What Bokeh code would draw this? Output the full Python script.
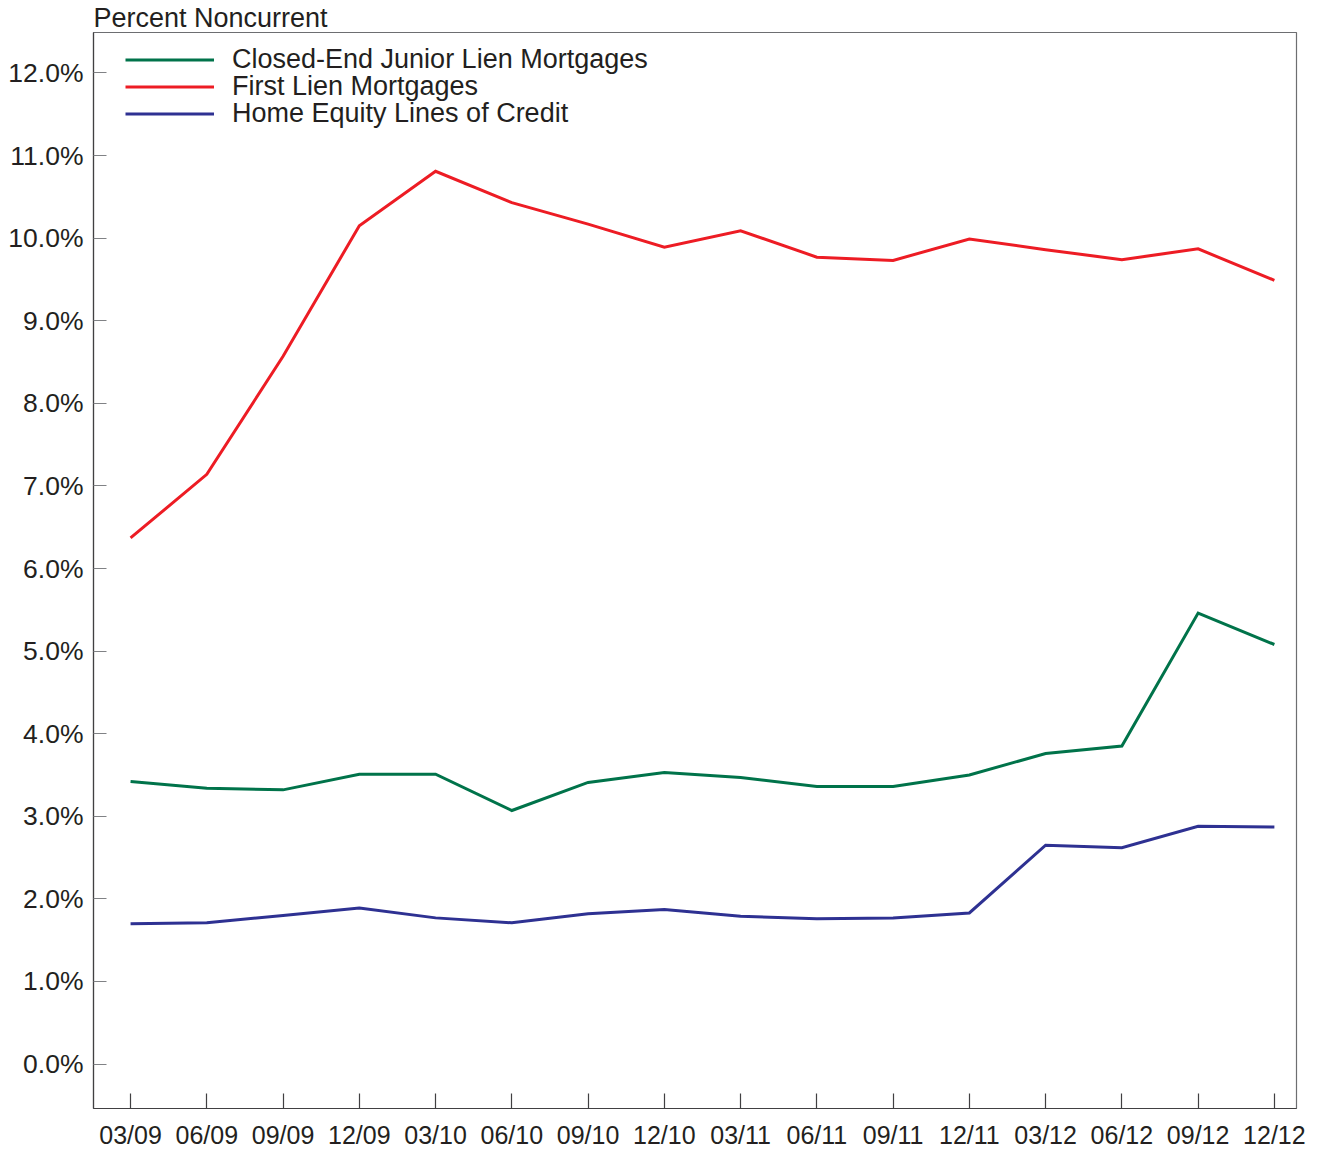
from bokeh.plotting import figure
from bokeh.models import Range1d, FixedTicker, PrintfTickFormatter, Legend, LegendItem, Title
from bokeh.embed import file_html
from bokeh.resources import INLINE

quarters = ["03/09", "06/09", "09/09", "12/09", "03/10", "06/10", "09/10", "12/10",
            "03/11", "06/11", "09/11", "12/11", "03/12", "06/12", "09/12", "12/12"]
closed_end = [3.42, 3.34, 3.32, 3.51, 3.51, 3.07, 3.41, 3.53, 3.47, 3.36, 3.36, 3.50, 3.76, 3.85, 5.46, 5.08]
first_lien = [6.37, 7.14, 8.57, 10.15, 10.81, 10.43, 10.17, 9.89, 10.09, 9.77, 9.73, 9.99, 9.86, 9.74, 9.87, 9.49]
heloc = [1.70, 1.71, 1.80, 1.89, 1.77, 1.71, 1.82, 1.87, 1.79, 1.76, 1.77, 1.83, 2.65, 2.62, 2.88, 2.87]
y_ticks = list(range(0, 13))
series_names = ["Closed-End Junior Lien Mortgages", "First Lien Mortgages", "Home Equity Lines of Credit"]
colors = ["#00734A", "#ED1C24", "#2E3192"]

FONT = "Liberation Sans"
TEXT = "#231F20"

xs = list(range(len(quarters)))
x0, x1 = -0.486, 15.29
y0, y1 = -0.538, 12.49

p = figure(width=1315, height=1151, output_backend="svg", toolbar_location=None,
           x_range=Range1d(x0, x1), y_range=Range1d(y0, y1),
           min_border_left=93, min_border_right=19, min_border_top=28, min_border_bottom=43)
p.title = Title(text="Percent Noncurrent", align="left", standoff=0,
                text_font=FONT, text_font_size="27px", text_font_style="normal",
                text_color=TEXT, text_line_height=0.8)
p.xgrid.visible = False
p.ygrid.visible = False
p.outline_line_color = "#6d6e71"
p.outline_line_width = 1.2
p.background_fill_color = "white"
p.border_fill_color = "white"

renderers = []
for vals, c in zip([closed_end, first_lien, heloc], colors):
    r = p.line(xs, vals, line_color=c, line_width=3, line_join="miter")
    renderers.append(r)

# x axis
p.xaxis.ticker = FixedTicker(ticks=xs)
p.xaxis.major_label_overrides = {i: q for i, q in enumerate(quarters)}
p.xaxis.major_tick_in = 15
p.xaxis.major_tick_out = 0
p.xaxis.minor_tick_line_color = None
p.xaxis.major_tick_line_color = "#414042"
p.xaxis.major_tick_line_width = 1.2
p.xaxis.axis_line_color = "#414042"
p.xaxis.axis_line_width = 1.2
p.xaxis.major_label_text_font = FONT
p.xaxis.major_label_text_font_size = "25px"
p.xaxis.major_label_text_color = TEXT
p.xaxis.major_label_standoff = 12

# y axis
p.yaxis.ticker = FixedTicker(ticks=y_ticks)
p.yaxis.formatter = PrintfTickFormatter(format="%.1f%%")
p.yaxis.major_tick_in = 13
p.yaxis.major_tick_out = 0
p.yaxis.minor_tick_line_color = None
p.yaxis.major_tick_line_color = "#808285"
p.yaxis.major_tick_line_width = 1.2
p.yaxis.axis_line_color = "#414042"
p.yaxis.axis_line_width = 1.2
p.yaxis.major_label_text_font = FONT
p.yaxis.major_label_text_font_size = "26.5px"
p.yaxis.major_label_text_color = TEXT
p.yaxis.major_label_standoff = 10

# one legend per entry so the row pitch matches the reference
legend_y = [1033, 1006, 979]
for name, r, ly in zip(series_names, renderers, legend_y):
    lg = Legend(items=[LegendItem(label=name, renderers=[r])],
                location=(32, ly), orientation="vertical",
                border_line_color=None, background_fill_alpha=0,
                padding=0, margin=0, spacing=0,
                glyph_width=89, glyph_height=27, label_height=27,
                label_standoff=18,
                label_text_font=FONT, label_text_font_size="27px", label_text_color=TEXT)
    p.add_layout(lg)

open("out.html", "w").write(file_html(p, INLINE))
